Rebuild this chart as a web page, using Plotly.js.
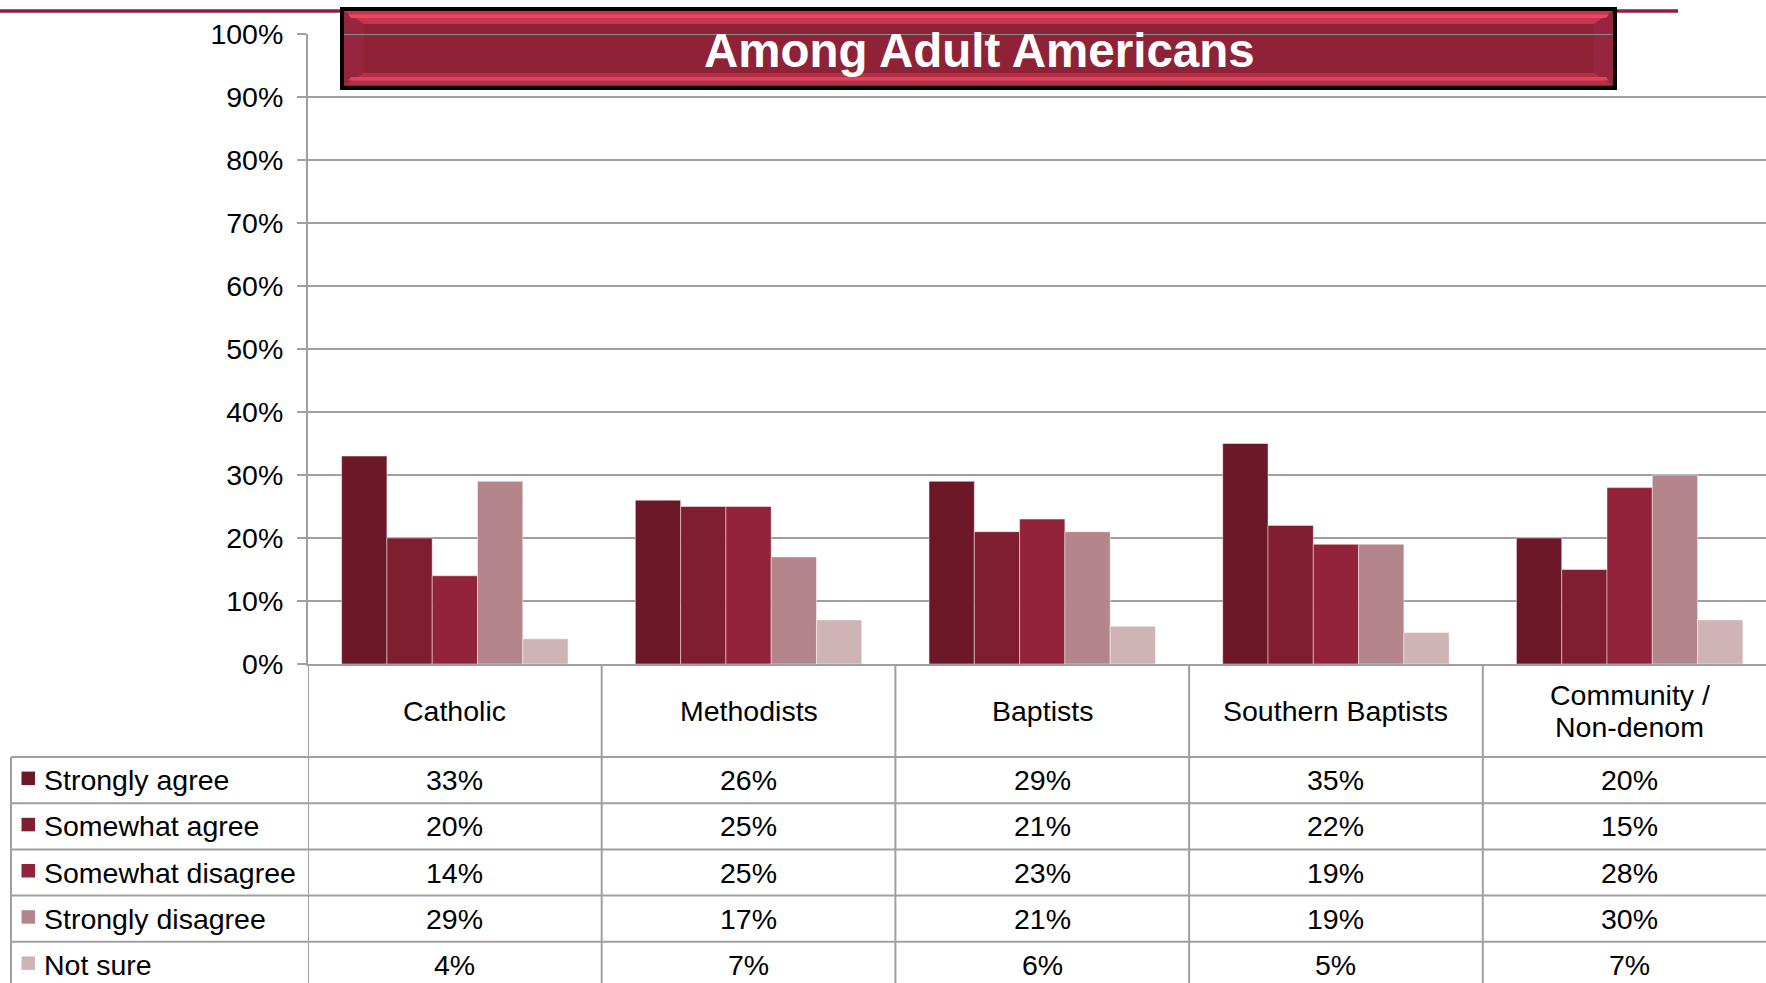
<!DOCTYPE html>
<html>
<head>
<meta charset="utf-8">
<script src="https://cdn.plot.ly/plotly-3.0.1.min.js"></script>
<style>html,body{margin:0;padding:0;background:#fff;}#chart{width:1766px;height:983px;}</style>
</head>
<body>
<div id="chart"></div>
<script>
// ---- data ----
const categories = ['Catholic', 'Methodists', 'Baptists', 'Southern Baptists', 'Community /<br>Non-denom'];
const seriesNames = ['Strongly agree', 'Somewhat agree', 'Somewhat disagree', 'Strongly disagree', 'Not sure'];
const stronglyAgree    = [33, 26, 29, 35, 20];
const somewhatAgree    = [20, 25, 21, 22, 15];
const somewhatDisagree = [14, 25, 23, 19, 28];
const stronglyDisagree = [29, 17, 21, 19, 30];
const notSure          = [4, 7, 6, 5, 7];
const yTickValues = [0, 10, 20, 30, 40, 50, 60, 70, 80, 90, 100];
const chartTitle = 'Among Adult Americans';

// ---- styles ----
const seriesValues = [stronglyAgree, somewhatAgree, somewhatDisagree, stronglyDisagree, notSure];
const colors = ['#6D1828', '#801E31', '#93233A', '#B4868B', '#CFB4B6'];
const FONT = 'Liberation Sans, Arial, sans-serif';
const FS = 28.5;
const GRID = '#A0A0A0';

const W = 1766, H = 983;
const mL = 308, mR = 0, mT = 34, mB = 319;
const plotW = W - mL - mR, plotH = H - mT - mB;
const catW = 293.7;
const X = px => (px - mL) / plotW;
const Y = py => (H - mB - py) / plotH;

const xIdx = categories.map((c, i) => i);

const traces = seriesValues.map((vals, s) => ({
  type: 'bar',
  name: seriesNames[s],
  x: xIdx,
  y: vals,
  marker: {color: colors[s], line: {color: 'rgba(255,255,255,0.45)', width: 1}},
  hoverinfo: 'none',
  showlegend: false
}));

const shapes = [];
const annotations = [];

// top decorative line
shapes.push({type: 'line', xref: 'paper', yref: 'paper', x0: X(0), x1: X(1678), y0: Y(11), y1: Y(11),
  line: {color: '#8B2338', width: 3.5}, layer: 'below'});
// banner
const bx0 = 340, bx1 = 1617, by0 = 7, by1 = 90;
const rect = (x0, y0, x1, y1, fill) => ({type: 'rect', xref: 'paper', yref: 'paper',
  x0: X(x0), x1: X(x1), y0: Y(y0), y1: Y(y1), fillcolor: fill, line: {width: 0}, layer: 'below'});
const poly = (pts, fill) => ({type: 'path', xref: 'paper', yref: 'paper', layer: 'below',
  path: 'M' + pts.map(p => X(p[0]) + ',' + Y(p[1])).join(' L') + ' Z', fillcolor: fill, line: {width: 0}});
shapes.push(rect(bx0, by0, bx1, by1, '#000000'));
const ix0 = 344, ix1 = 1613, iy0 = 11, iy1 = 85.5;
const cx0 = 364, cx1 = 1594, cy0 = 24, cy1 = 73;
shapes.push(rect(ix0, iy0, ix1, iy1, '#A02A42'));
shapes.push(poly([[ix0, iy0], [ix1, iy0], [cx1, cy0], [cx0, cy0]], '#C7344E'));
shapes.push(poly([[ix0, iy1], [ix1, iy1], [cx1, cy1], [cx0, cy1]], '#B52F48'));
shapes.push(poly([[ix0, iy0], [cx0, cy0], [cx0, cy1], [ix0, iy1]], '#962540'));
shapes.push(poly([[ix1, iy0], [cx1, cy0], [cx1, cy1], [ix1, iy1]], '#962540'));
shapes.push(poly([[ix0 + 4, 14.5], [ix1 - 4, 14.5], [ix1 - 7, 18], [ix0 + 7, 18]], '#EC4662'));
shapes.push(poly([[ix0 + 7, 77], [ix1 - 7, 77], [ix1 - 4, 80.5], [ix0 + 4, 80.5]], '#E0425C'));
shapes.push(rect(cx0, cy0, cx1, cy1, '#8F2237'));
// the top gridline shows through the banner in the original
shapes.push({type: 'line', xref: 'paper', yref: 'y', x0: X(ix0), x1: X(ix1), y0: 100, y1: 100,
  line: {color: '#8A8A8A', width: 2}, layer: 'above'});
annotations.push({xref: 'paper', yref: 'paper', x: X(979), y: Y(50), xanchor: 'center', yanchor: 'middle',
  text: '<b>' + chartTitle + '</b>', showarrow: false, font: {family: FONT, size: 47.5, color: '#FFFFFF'}});

// table lines
const headerBottom = 757, rowH = 46.2;
for (let r = 0; r < seriesNames.length; r++) {
  const yy = headerBottom + r * rowH;
  shapes.push({type: 'line', xref: 'paper', yref: 'paper', x0: X(11), x1: X(W + 5), y0: Y(yy), y1: Y(yy),
    line: {color: GRID, width: 2}});
}
shapes.push({type: 'line', xref: 'paper', yref: 'paper', x0: X(11), x1: X(11), y0: Y(headerBottom), y1: Y(H + 10),
  line: {color: GRID, width: 2}});
for (let i = 0; i < categories.length; i++) {
  shapes.push({type: 'line', xref: 'x', yref: 'paper', x0: i - 0.5, x1: i - 0.5, y0: 0, y1: Y(H + 10),
    line: {color: GRID, width: 2}});
}

// category header labels
categories.forEach((c, i) => {
  const lines = c.split('<br>');
  const lh = 32.6;
  lines.forEach((ln, k) => {
    const yc = 711 + (k - (lines.length - 1) / 2) * lh;
    annotations.push({xref: 'x', yref: 'paper', x: i, y: Y(yc), xanchor: 'center', yanchor: 'middle',
      text: ln, showarrow: false, font: {family: FONT, size: FS, color: '#000'}});
  });
});

// legend rows + values
seriesNames.forEach((name, s) => {
  const yc = headerBottom + s * rowH + rowH / 2;
  shapes.push({type: 'rect', xref: 'paper', yref: 'paper', x0: X(21.5), x1: X(35), y0: Y(yc - 8.5), y1: Y(yc + 5),
    fillcolor: colors[s], line: {width: 0}});
  annotations.push({xref: 'paper', yref: 'paper', x: X(42), y: Y(yc), xanchor: 'left', yanchor: 'middle',
    text: name, showarrow: false, font: {family: FONT, size: FS, color: '#000'}});
  seriesValues[s].forEach((v, i) => {
    annotations.push({xref: 'x', yref: 'paper', x: i, y: Y(yc), xanchor: 'center', yanchor: 'middle',
      text: v + '%', showarrow: false, font: {family: FONT, size: FS, color: '#000'}});
  });
});

const layout = {
  width: W, height: H,
  margin: {l: mL, r: mR, t: mT, b: mB, pad: 0},
  paper_bgcolor: '#FFFFFF', plot_bgcolor: '#FFFFFF',
  barmode: 'group', bargap: 0.229, bargroupgap: 0,
  showlegend: false,
  font: {family: FONT, size: FS, color: '#000'},
  xaxis: {
    type: 'linear', range: [-0.5, -0.5 + plotW / catW], showgrid: false, zeroline: false,
    showticklabels: false, ticks: '', showline: true, linecolor: GRID, linewidth: 2, fixedrange: true
  },
  yaxis: {
    range: [0, 100], tickvals: yTickValues, ticktext: yTickValues.map(v => v + '%'),
    showgrid: true, gridcolor: GRID, gridwidth: 2, zeroline: false,
    showline: true, linecolor: GRID, linewidth: 2,
    ticks: 'outside', ticklen: 9, tickwidth: 2, tickcolor: GRID, ticklabelstandoff: 8,
    tickfont: {family: FONT, size: FS, color: '#000'}, fixedrange: true
  },
  shapes: shapes,
  annotations: annotations
};

Plotly.newPlot('chart', traces, layout, {displayModeBar: false, staticPlot: true});
</script>
</body>
</html>
